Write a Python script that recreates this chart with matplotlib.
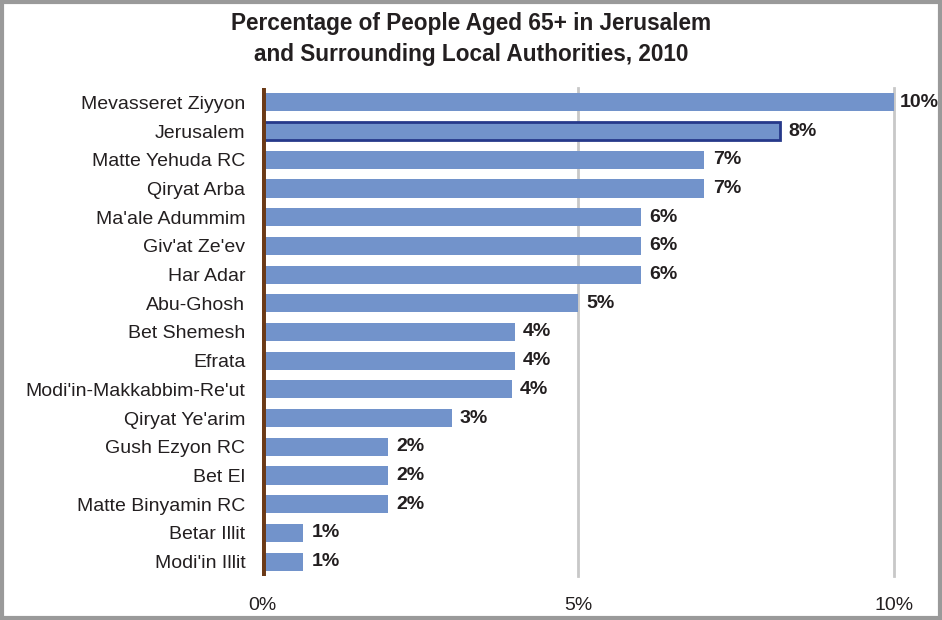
import matplotlib.pyplot as plt
from matplotlib.patches import Rectangle

plt.rcParams['font.family'] = ['Liberation Sans', 'DejaVu Sans']

places = ['Mevasseret Ziyyon', 'Jerusalem', 'Matte Yehuda RC', 'Qiryat Arba',
          "Ma'ale Adummim", "Giv'at Ze'ev", 'Har Adar', 'Abu-Ghosh',
          'Bet Shemesh', 'Efrata', "Modi'in-Makkabbim-Re'ut", "Qiryat Ye'arim",
          'Gush Ezyon RC', 'Bet El', 'Matte Binyamin RC', 'Betar Illit',
          "Modi'in Illit"]
pct = [10.0, 8.2, 7.0, 7.0, 6.0, 6.0, 6.0, 5.0, 4.0, 4.0, 3.95, 3.0,
       2.0, 2.0, 2.0, 0.65, 0.65]
labels = ['10%', '8%', '7%', '7%', '6%', '6%', '6%', '5%', '4%', '4%', '4%',
          '3%', '2%', '2%', '2%', '1%', '1%']
highlight = 'Jerusalem'

fig = plt.figure(figsize=(9.42, 6.2), dpi=100)
ax = fig.add_axes([262/942, 1 - 576/620, (894-262)/942, (576-88)/620])

ypos = list(range(len(places)))
bars = ax.barh(ypos, pct, height=0.63, color='#7293cb', zorder=2)
for b, name in zip(bars, places):
    if name == highlight:
        b.set_edgecolor('#26398a')
        b.set_linewidth(2)

for y, v, t in zip(ypos, pct, labels):
    ax.annotate(t, (v, y), xytext=(4 if v >= 10 else 6, 0), textcoords='offset points',
                va='center', ha='left', fontsize=14, fontweight='bold',
                color='#231f20', annotation_clip=False)

ax.set_xlim(0, 10)
ax.set_ylim(len(places) - 0.5, -0.5)
ax.set_yticks(ypos)
ax.set_yticklabels(places, fontsize=14, color='#231f20')
ax.set_xticks([0, 5, 10])
ax.set_xticklabels(['0%', '5%', '10%'], fontsize=14, color='#231f20')
ax.tick_params(axis='both', length=0)
ax.tick_params(axis='x', pad=15)
ax.tick_params(axis='y', pad=12)

for s in ax.spines.values():
    s.set_visible(False)
for xv in [5, 10]:
    ax.axvline(xv, color='#c8c8c8', linewidth=2, zorder=0, clip_on=False)
ax.axvline(0, color='#6b3a17', linewidth=5, solid_capstyle='round', zorder=3)

fig.text(0.5, 1 - 12/620, 'Percentage of People Aged 65+ in Jerusalem\nand Surrounding Local Authorities, 2010',
         ha='center', va='top', fontsize=16.3, fontweight='bold', color='#231f20',
         linespacing=1.45)

fig.patches.append(Rectangle((2/942, 2/620), 1 - 4/942, 1 - 4/620, transform=fig.transFigure,
                             fill=False, edgecolor='#9a9a9a', linewidth=3))

fig.savefig('out.png', dpi=100)
